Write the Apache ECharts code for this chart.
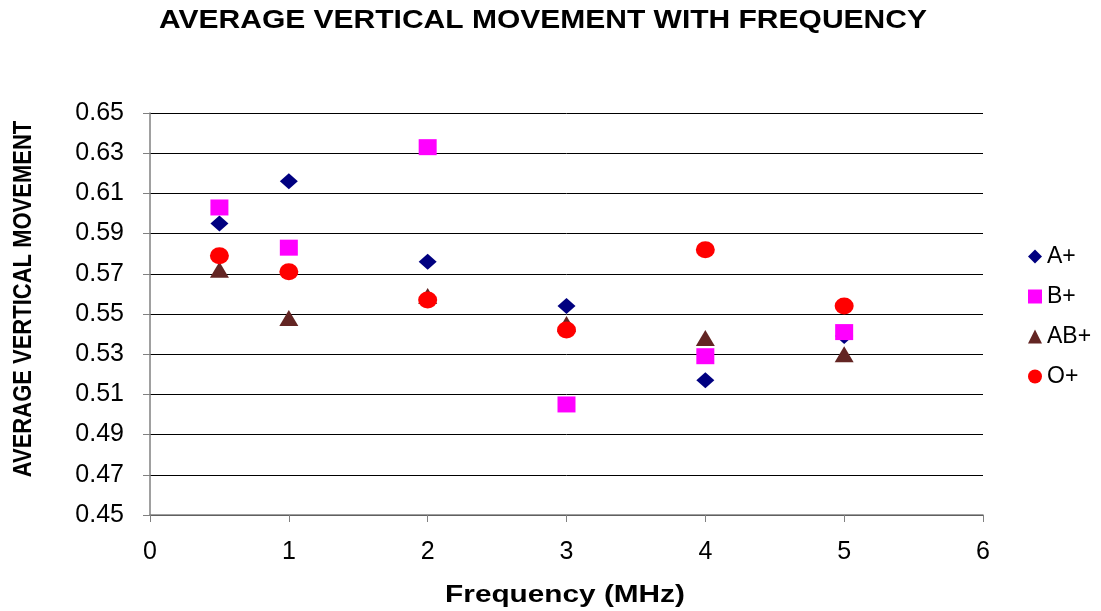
<!DOCTYPE html>
<html><head><meta charset="utf-8">
<script src="https://cdn.jsdelivr.net/npm/echarts@6/dist/echarts.min.js"></script>
<style>html,body{margin:0;padding:0;background:#fff}#c{width:1101px;height:611px}</style>
</head><body><div id="c"></div>
<script>
const frequencies = [0.5, 1, 2, 3, 4, 5];
const seriesNames = ['A+', 'B+', 'AB+', 'O+'];
const aPlus  = [0.595, 0.616, 0.576, 0.554, 0.517, 0.539];
const bPlus  = [0.603, 0.583, 0.633, 0.505, 0.529, 0.541];
const abPlus = [0.572, 0.548, 0.559, 0.545, 0.538, 0.530];
const oPlus  = [0.579, 0.571, 0.557, 0.542, 0.582, 0.554];
const yTicks = [0.45, 0.47, 0.49, 0.51, 0.53, 0.55, 0.57, 0.59, 0.61, 0.63, 0.65];
const xTicks = [0, 1, 2, 3, 4, 5, 6];
const titleText = 'AVERAGE VERTICAL MOVEMENT WITH FREQUENCY';
const xName = 'Frequency (MHz)';
const yName = 'AVERAGE VERTICAL MOVEMENT';

const values = [aPlus, bPlus, abPlus, oPlus];
const colors = ['#000080', '#FF00FF', '#632523', '#FF0000'];
const symbols = ['diamond', 'rect', 'triangle', 'circle'];
const sizes = [[18, 16], [18, 16], [19, 16], [19, 17]];
const font = 'Liberation Sans, Arial, sans-serif';

const chart = echarts.init(document.getElementById('c'), null, {renderer: 'canvas'});
chart.setOption({
  animation: false,
  backgroundColor: '#fff',
  graphic: [
    {type: 'text', x: 543, y: 21, scaleX: 1.2, z: 10,
     style: {text: titleText, fill: '#000', font: 'bold 25px ' + font,
             textAlign: 'center', textVerticalAlign: 'middle'}},
    {type: 'text', x: 565, y: 595, scaleX: 1.24, z: 10,
     style: {text: xName, fill: '#000', font: 'bold 24px ' + font,
             textAlign: 'center', textVerticalAlign: 'middle'}},
    {type: 'text', x: 24, y: 299, rotation: Math.PI / 2, scaleY: 1.15, z: 10,
     style: {text: yName, fill: '#000', font: 'bold 22px ' + font,
             textAlign: 'center', textVerticalAlign: 'middle'}}
  ],
  legend: {
    orient: 'vertical', left: 1023, top: 240, itemGap: 17,
    itemWidth: 14, itemHeight: 14,
    textStyle: {fontFamily: font, fontSize: 23, color: '#000', padding: [0, 0, 0, 0]},
    data: seriesNames.map((n, i) => ({name: n, icon: symbols[i]}))
  },
  grid: {left: 150, top: 113, width: 833, height: 402, containLabel: false},
  xAxis: {
    type: 'value', min: xTicks[0], max: xTicks[xTicks.length - 1], interval: 1,
    axisLine: {show: true, onZero: false, lineStyle: {color: '#808080', width: 1.5}},
    axisTick: {show: true, length: 7, lineStyle: {color: '#808080'}},
    axisLabel: {fontFamily: font, fontSize: 25, color: '#000', margin: 25},
    splitLine: {show: false}
  },
  yAxis: {
    type: 'value', min: yTicks[0], max: yTicks[yTicks.length - 1], interval: 0.02,
    axisLine: {show: true, lineStyle: {color: '#808080', width: 1.5}},
    axisTick: {show: true, length: 7, lineStyle: {color: '#808080'}},
    axisLabel: {fontFamily: font, fontSize: 25, color: '#000', margin: 26,
      formatter: v => v.toFixed(2)},
    splitLine: {show: true, lineStyle: {color: '#000', width: 1}}
  },
  series: seriesNames.map((n, i) => ({
    name: n, type: 'scatter',
    symbol: symbols[i], symbolSize: sizes[i],
    itemStyle: {color: colors[i], opacity: 1},
    data: frequencies.map((f, j) => [f, values[i][j]])
  }))
});
</script></body></html>
